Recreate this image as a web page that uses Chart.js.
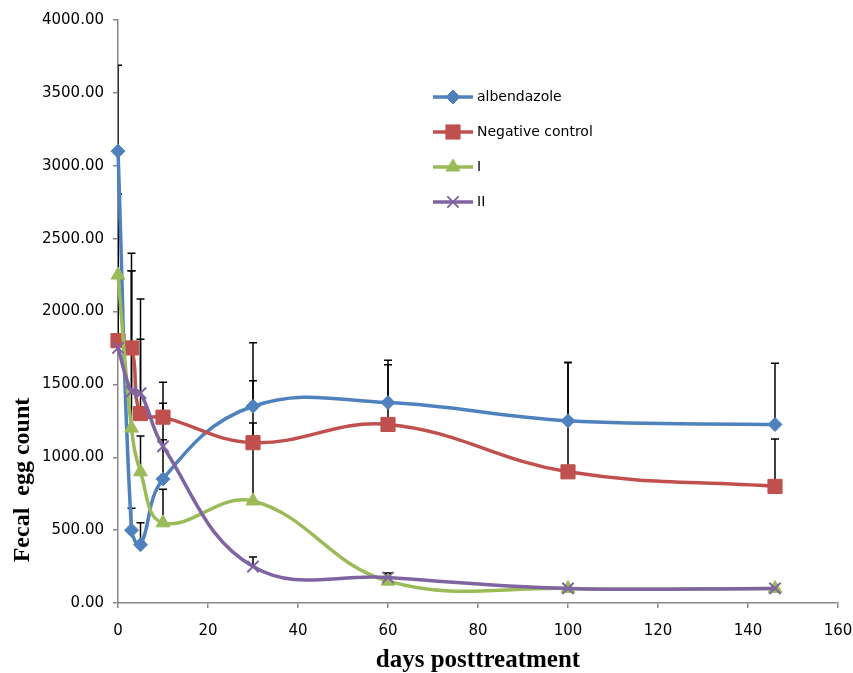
<!DOCTYPE html>
<html><head><meta charset="utf-8">
<script src="https://cdn.jsdelivr.net/npm/chart.js@4/dist/chart.umd.min.js"></script>
<style>html,body{margin:0;padding:0;background:#fff;}#wrap{width:853px;height:673px;}</style>
</head><body><div id="wrap"><canvas id="c" width="853" height="673"></canvas></div>
<script>
// ---- data ----
const days = [0, 3, 5, 10, 30, 60, 100, 146];
const albendazole    = [3100, 500, 400, 850, 1350, 1375, 1250, 1225];
const albendazoleErr = [590, 150, 150, 520, 435, 290, 400, 420];
const negativeCtrl    = [1800, 1750, 1300, 1275, 1100, 1225, 900, 800];
const negativeCtrlErr = [820, 650, 510, 240, 425, 410, 750, 325];
const seriesI    = [2250, 1200, 900, 550, 700, 150, 100, 100];
const seriesIErr = [556, 1080, 245, 230, 535, 50, 0, 0];
const seriesII    = [1750, 1450, 1440, 1075, 250, 175, 100, 100];
const seriesIIErr = [870, 830, 645, 45, 65, 30, 0, 0];
const seriesNames = ['albendazole', 'Negative control', 'I', 'II'];
const xTickLabels = ['0', '20', '40', '60', '80', '100', '120', '140', '160'];
const yTickLabels = ['0.00', '500.00', '1000.00', '1500.00', '2000.00', '2500.00', '3000.00', '3500.00', '4000.00'];
const xTitle = 'days posttreatment';
const yTitle = 'Fecal  egg count';

const seriesValues = [albendazole, negativeCtrl, seriesI, seriesII];
const seriesErrors = [albendazoleErr, negativeCtrlErr, seriesIErr, seriesIIErr];
const colors = ['#4F81BD', '#C0504D', '#9BBB59', '#8064A2'];
const styles = ['rectRot', 'rect', 'triangle', 'crossRot'];
const radii = [7, 10, 8, 8];

function drawMarker(ctx, i, x, y) {
  ctx.fillStyle = colors[i];
  ctx.strokeStyle = colors[i];
  ctx.lineWidth = styles[i] === 'crossRot' ? 2 : 1;
  Chart.helpers.drawPoint(ctx, {pointStyle: styles[i], radius: radii[i], rotation: 0, borderWidth: ctx.lineWidth}, x, y);
}
const legendIcons = colors.map((c, i) => {
  const cv = document.createElement('canvas');
  cv.width = 40; cv.height = 20;
  const g = cv.getContext('2d');
  g.strokeStyle = c; g.lineWidth = 3.5;
  g.beginPath(); g.moveTo(0, 10); g.lineTo(40, 10); g.stroke();
  drawMarker(g, i, 20, 10);
  return cv;
});

const errorBars = {
  id: 'errorBars',
  beforeDatasetsDraw(chart) {
    const {ctx, chartArea, scales: {x, y}} = chart;
    ctx.save();
    ctx.beginPath();
    ctx.rect(chartArea.left, chartArea.top, chartArea.width, chartArea.height);
    ctx.clip();
    ctx.strokeStyle = '#000';
    ctx.lineWidth = 1.5;
    seriesErrors.forEach((errs, si) => {
      errs.forEach((e, i) => {
        if (!e) return;
        const px = x.getPixelForValue(days[i]);
        const y0 = y.getPixelForValue(seriesValues[si][i]);
        const y1 = y.getPixelForValue(seriesValues[si][i] + e);
        ctx.beginPath();
        ctx.moveTo(px, y0); ctx.lineTo(px, y1);
        ctx.moveTo(px - 4, y1); ctx.lineTo(px + 4, y1);
        ctx.stroke();
      });
    });
    ctx.restore();
  }
};
const placeLegend = {
  id: 'placeLegend',
  beforeDraw(chart) {
    chart.legend.left = 415;
    chart.legend.top = 69;
  }
};
const yAxisTitle = {
  id: 'yAxisTitle',
  afterDraw(chart) {
    const ctx = chart.ctx;
    ctx.save();
    ctx.translate(23, 480);
    ctx.rotate(-Math.PI / 2);
    ctx.font = 'bold 24px "Liberation Serif"';
    ctx.fillStyle = '#000';
    ctx.textAlign = 'center';
    ctx.textBaseline = 'middle';
    ctx.fillText(yTitle, 0, 0);
    ctx.restore();
  }
};

const datasets = seriesNames.map((name, i) => ({
  label: name,
  data: days.map((d, k) => ({x: d, y: seriesValues[i][k]})),
  borderColor: colors[i],
  backgroundColor: colors[i],
  pointBackgroundColor: colors[i],
  pointBorderColor: colors[i],
  pointStyle: styles[i],
  pointRadius: radii[i],
  pointBorderWidth: styles[i] === 'crossRot' ? 2 : 1,
  borderWidth: 3.5,
  tension: 0.4,
  order: 4 - i,
  clip: 14
}));

const axisGray = '#888888';
new Chart(document.getElementById('c'), {
  type: 'line',
  data: {datasets},
  plugins: [errorBars, placeLegend, yAxisTitle],
  options: {
    responsive: false,
    animation: false,
    layout: {padding: {left: 0, top: 20, right: 15, bottom: 0}},
    plugins: {
      tooltip: {enabled: false},
      legend: {
        position: 'chartArea',
        align: 'start',
        labels: {
          usePointStyle: true,
          pointStyleWidth: 34,
          padding: 21,
          color: '#000',
          font: {family: 'DejaVu Sans', size: 14},
          sort: (a, b) => a.datasetIndex - b.datasetIndex,
          generateLabels(chart) {
            const items = Chart.defaults.plugins.legend.labels.generateLabels(chart);
            items.forEach(it => { it.pointStyle = legendIcons[it.datasetIndex]; });
            return items;
          }
        }
      }
    },
    scales: {
      x: {
        type: 'linear', min: 0, max: 160,
        afterFit(s) { s.height = 70; s.paddingRight = 14; s.paddingLeft = 5; },
        ticks: {stepSize: 20, color: '#000', padding: 14, maxRotation: 0,
          font: {family: 'DejaVu Sans', size: 15},
          callback: (v, i) => xTickLabels[i]},
        grid: {drawOnChartArea: false, drawTicks: true, tickLength: 5, color: axisGray, lineWidth: 1.5},
        border: {color: axisGray, width: 1.5},
        title: {display: true, text: xTitle, color: '#000', padding: {top: 0, bottom: -3},
          font: {family: 'Liberation Serif', size: 25, weight: 'bold'}}
      },
      y: {
        type: 'linear', min: 0, max: 4000,
        afterFit(s) { s.width = 118; },
        ticks: {stepSize: 500, color: '#000', padding: 9,
          font: {family: 'DejaVu Sans', size: 15},
          callback: (v, i) => yTickLabels[i]},
        grid: {drawOnChartArea: false, drawTicks: true, tickLength: 5, color: axisGray, lineWidth: 1.5},
        border: {color: axisGray, width: 1.5}
      }
    }
  }
});
</script></body></html>
